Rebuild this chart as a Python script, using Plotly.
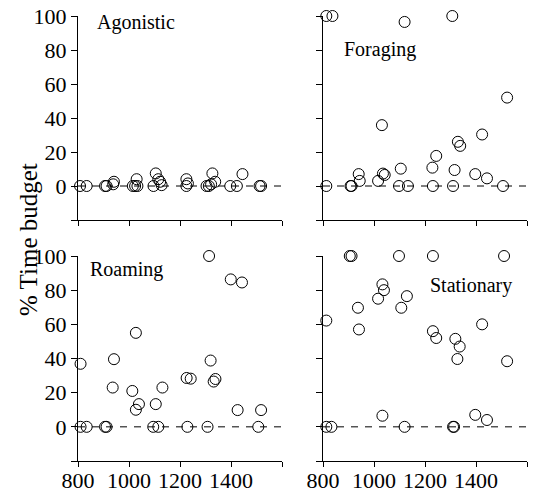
import plotly.graph_objects as go

# ---- data ----
agon_x = [808, 834, 906, 912, 941, 938, 1015, 1024, 1033, 1030, 1096, 1105, 1115, 1128, 1122,
          1225, 1231, 1225, 1304, 1313, 1327, 1338, 1322, 1397, 1423, 1445, 1512, 1518]
agon_y = [0, 0, 0, 0, 2.5, 1, 0, 0, 0, 4, 0, 7.4, 4, 0.5, 2.5,
          4, 1.5, 0, 0, 0, 7.4, 2.5, 1, 0, 0, 7, 0, 0]

forag_x = [813, 837, 813, 908, 912, 940, 944, 1016, 1031, 1035, 1042, 1120, 1105, 1098, 1133,
           1229, 1244, 1231, 1307, 1316, 1310, 1329, 1338, 1397, 1424, 1443, 1506, 1522]
forag_y = [100, 100, 0, 0, 0, 7, 3, 3, 35.8, 7.3, 6.5, 96.5, 10.2, 0, 0,
           10.8, 17.7, 0, 100, 9.4, 0, 26, 23.6, 7, 30.3, 4.5, 0, 52]

roam_x = [810, 810, 834, 906, 912, 941, 936, 1013, 1027, 1027, 1039, 1105, 1095, 1115, 1131,
          1226, 1242, 1229, 1314, 1320, 1332, 1339, 1308, 1399, 1443, 1426, 1518, 1507]
roam_y = [36.9, 0, 0, 0, 0, 39.6, 23, 21, 55, 10, 13.3, 13.3, 0, 0, 23,
          28.6, 28.2, 0, 100, 38.8, 26.5, 28, 0, 86.3, 84.5, 9.8, 9.8, 0]

stat_x = [813, 813, 833, 905, 912, 937, 941, 1016, 1033, 1039, 1033, 1098, 1107, 1129, 1120,
          1231, 1231, 1244, 1310, 1314, 1319, 1336, 1327, 1397, 1424, 1443, 1510, 1522]
stat_y = [62.2, 0, 0, 100, 100, 69.7, 57, 75, 83.4, 80, 6.5, 100, 69.7, 76.5, 0,
          100, 56, 52, 0, 0, 51.5, 47, 39.7, 7, 60, 4, 100, 38.4]

panel_names = ["Agonistic", "Foraging", "Roaming", "Stationary"]
label_pos_x = [867, 875, 840, 1212]
label_pos_y = [96, 80, 92, 83]

x_tickvals = [800, 1000, 1200, 1400, 1600]
x_ticktext_left = ["800", "1000", "1200", "1400", ""]
x_ticktext_right = ["800", "1000", "1200", "1400", "1600"]
y_tickvals = [-20, 0, 20, 40, 60, 80, 100]
y_ticktext = ["", "0", "20", "40", "60", "80", "100"]
y_title = "% Time budget"

# ---- layout geometry ----
W, H = 548, 496
xdom = [[78 / W, 282 / W], [323 / W, 527 / W]]
ydom = [[1 - 220 / H, 1 - 16 / H], [1 - 461 / H, 1 - 256 / H]]

FONT = "Liberation Serif"

fig = go.Figure()
series = [(agon_x, agon_y), (forag_x, forag_y), (roam_x, roam_y), (stat_x, stat_y)]
for i, (xs, ys) in enumerate(series):
    ax = "" if i == 0 else str(i + 1)
    fig.add_trace(go.Scatter(
        x=xs, y=ys, mode="markers", xaxis="x" + ax, yaxis="y" + ax,
        marker=dict(symbol="circle-open", size=11, color="black", line=dict(width=1, color="black")),
        cliponaxis=False, showlegend=False, hoverinfo="skip"))

layout = dict(
    width=W, height=H, margin=dict(l=0, r=0, t=0, b=0, autoexpand=False),
    paper_bgcolor="white", plot_bgcolor="white",
    font=dict(family=FONT, color="black", size=21),
    showlegend=False,
)
shapes = []
annotations = []
for i in range(4):
    row, col = divmod(i, 2)
    ax = "" if i == 0 else str(i + 1)
    xa = dict(
        domain=xdom[col], range=[800, 1600], anchor="y" + ax, automargin=False,
        showline=True, linecolor="black", linewidth=1, mirror=False,
        ticks="outside", ticklen=5, tickcolor="black", tickwidth=1,
        tickmode="array", tickvals=x_tickvals, showgrid=False, zeroline=False,
        ticklabelstandoff=-5,
        tickfont=dict(family=FONT, size=22, color="black"),
    )
    if row == 1:
        xa["ticktext"] = x_ticktext_left if col == 0 else x_ticktext_right
        xa["showticklabels"] = True
    else:
        xa["showticklabels"] = False
    ya = dict(
        domain=ydom[row], range=[-20, 100], anchor="x" + ax, automargin=False,
        showline=True, linecolor="black", linewidth=1,
        ticks="outside", ticklen=6, tickcolor="black", tickwidth=1,
        tickmode="array", tickvals=y_tickvals, ticktext=y_ticktext,
        showgrid=False, zeroline=False,
        showticklabels=(col == 0),
        tickfont=dict(family=FONT, size=22, color="black"),
    )
    layout["xaxis" + ax] = xa
    layout["yaxis" + ax] = ya
    shapes.append(dict(type="line", xref="x" + ax + " domain", yref="y" + ax,
                       x0=0, x1=1, y0=0, y1=0,
                       line=dict(color="black", width=1, dash="7px,7px")))
    annotations.append(dict(text=panel_names[i], x=label_pos_x[i], y=label_pos_y[i],
                            xref="x" + ax, yref="y" + ax, xanchor="left", yanchor="middle",
                            showarrow=False, font=dict(family=FONT, size=20, color="black")))

annotations.append(dict(text=y_title, x=28 / W, y=1 - 240 / H, xref="paper", yref="paper",
                        xanchor="center", yanchor="middle", textangle=-90, showarrow=False,
                        font=dict(family=FONT, size=25, color="black")))
layout["shapes"] = shapes
layout["annotations"] = annotations
fig.update_layout(**layout)
fig.write_html("out.html", config={"displayModeBar": False},
               post_script="document.body.style.margin='0px';document.body.style.overflow='hidden';")
